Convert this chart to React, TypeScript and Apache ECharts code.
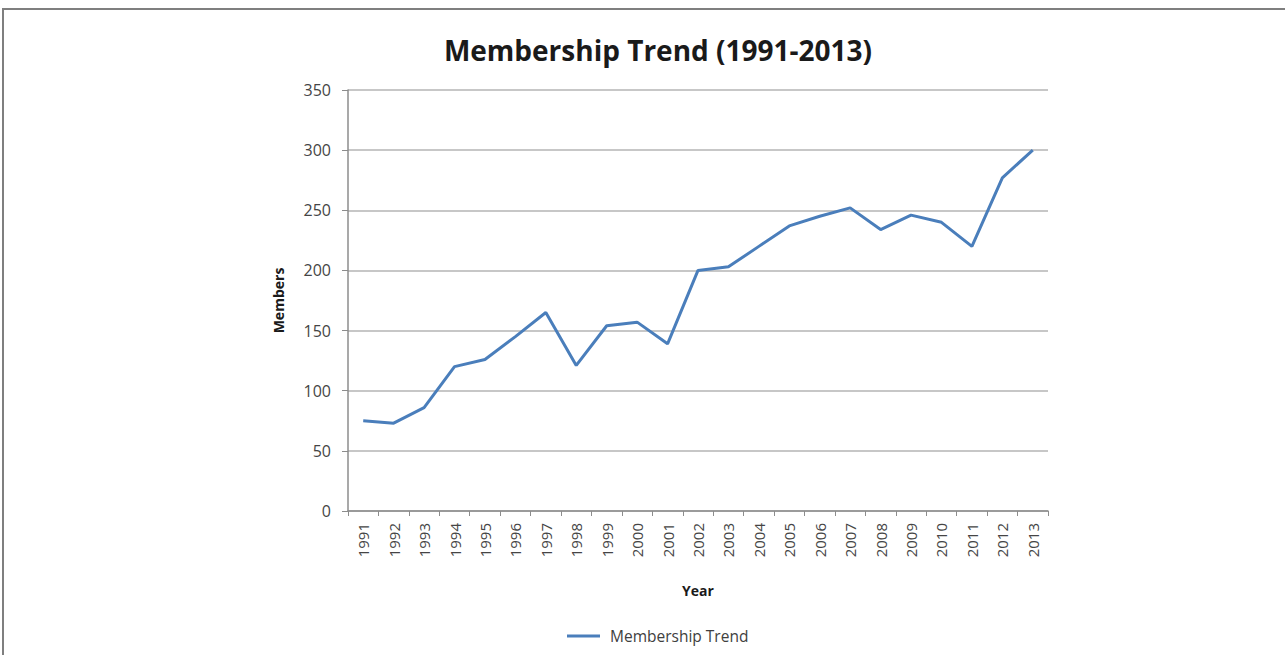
import React, { useEffect, useRef } from "react";
import * as echarts from "echarts";

const years = ["1991","1992","1993","1994","1995","1996","1997","1998","1999","2000","2001","2002","2003","2004","2005","2006","2007","2008","2009","2010","2011","2012","2013"];
const members = [75, 73, 86, 120, 126, 145, 165, 121, 154, 157, 139, 200, 203, 220, 237, 245, 252, 234, 246, 240, 220, 277, 300];
const seriesName = "Membership Trend";
const titleText = "Membership Trend (1991-2013)";

export default function App() {
  const ref = useRef<HTMLDivElement>(null);
  useEffect(() => {
    if (!ref.current) return;
    const chart = echarts.init(ref.current, null, { renderer: "svg" });
    const font = "'Open Sans', sans-serif";
    chart.setOption({
      animation: false,
      backgroundColor: "#ffffff",
      title: {
        text: titleText,
        left: 653,
        textAlign: "center",
        top: 31,
        textStyle: { fontFamily: font, fontSize: 28, fontWeight: "bold", color: "#1a1a1a" },
      },
      graphic: [
        { type: "rect", shape: { x: 2, y: 8, width: 1283, height: 2 }, style: { fill: "#7f7f7f" } },
        { type: "rect", shape: { x: 2, y: 8, width: 2, height: 647 }, style: { fill: "#7f7f7f" } },
      ],
      legend: {
        bottom: 6,
        left: 562,
        itemWidth: 33,
        itemHeight: 3,
        itemGap: 10,
        textStyle: { fontFamily: font, fontSize: 15.5, color: "#404040", padding: [0, 0, 0, 5] },
        data: [{ name: seriesName, icon: "rect" }],
      },
      grid: { left: 348, right: 237, top: 90, bottom: 144, containLabel: false },
      xAxis: {
        type: "category",
        data: years,
        boundaryGap: true,
        name: "Year",
        nameLocation: "middle",
        nameGap: 72,
        nameTextStyle: { fontFamily: font, fontSize: 14, fontWeight: "bold", color: "#1a1a1a" },
        axisLine: { lineStyle: { color: "#8c8c8c", width: 1.5 } },
        axisTick: { show: true, interval: 0, length: 5, lineStyle: { color: "#8c8c8c" } },
        axisLabel: { rotate: 90, interval: 0, margin: 12, fontFamily: font, fontSize: 15, color: "#454545" },
      },
      yAxis: {
        type: "value",
        min: 0,
        max: 350,
        interval: 50,
        name: "Members",
        nameLocation: "middle",
        nameGap: 63,
        nameRotate: 90,
        nameTextStyle: { fontFamily: font, fontSize: 14, fontWeight: "bold", color: "#1a1a1a" },
        axisLine: { show: true, lineStyle: { color: "#8c8c8c", width: 1.5 } },
        axisTick: { show: true, length: 6, lineStyle: { color: "#8c8c8c" } },
        axisLabel: { margin: 17, fontFamily: font, fontSize: 16, color: "#454545" },
        splitLine: { lineStyle: { color: "#b4b4b4", width: 1.5 } },
      },
      series: [
        {
          name: seriesName,
          type: "line",
          data: members,
          symbol: "none",
          showSymbol: false,
          lineStyle: { color: "#4a7ebb", width: 3 },
          itemStyle: { color: "#4a7ebb" },
        },
      ],
    });
    return () => chart.dispose();
  }, []);
  return (
    <div
      ref={ref}
      style={{ position: "fixed", left: 0, top: 0, width: 1285, height: 655 }}
    />
  );
}
